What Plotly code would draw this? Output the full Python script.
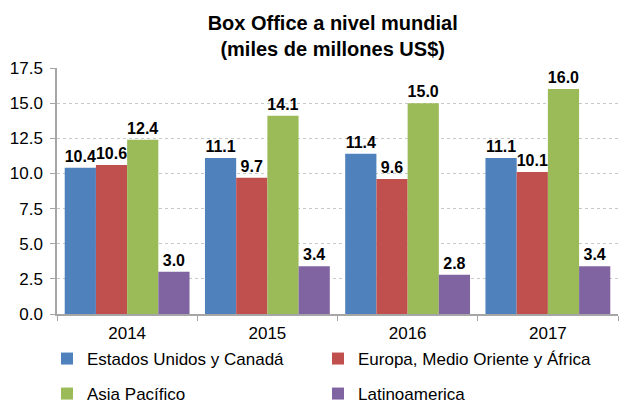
import plotly.graph_objects as go

years = ["2014", "2015", "2016", "2017"]
series_names = ["Estados Unidos y Canadá", "Europa, Medio Oriente y África", "Asia Pacífico", "Latinoamerica"]
usa_canada = [10.4, 11.1, 11.4, 11.1]
europa = [10.6, 9.7, 9.6, 10.1]
asia = [12.4, 14.1, 15.0, 16.0]
latam = [3.0, 3.4, 2.8, 3.4]
colors = ["#4F81BD", "#C0504D", "#9BBB59", "#8064A2"]
legend_ids = ["legend", "legend2", "legend3", "legend4"]

fig = go.Figure()
for name, vals, col, lg in zip(series_names, [usa_canada, europa, asia, latam], colors, legend_ids):
    fig.add_trace(go.Bar(
        x=years, y=vals, name=name, marker=dict(color=col, line=dict(width=0)),
        text=[f"{v:.1f}" for v in vals], textposition="outside",
        textfont=dict(family="Liberation Sans, Arial", size=16, color="#000000", weight="bold"),
        cliponaxis=False, legend=lg, showlegend=True,
    ))

font = dict(family="Liberation Sans, Arial", size=17, color="#000000")


def leg(x_px, y_px):
    return dict(orientation="v", xref="container", yref="container",
                x=x_px / 628, xanchor="left", y=1 - y_px / 403, yanchor="middle",
                itemwidth=30, font=font, bgcolor="rgba(0,0,0,0)")


fig.update_layout(
    width=628, height=403,
    paper_bgcolor="white", plot_bgcolor="white",
    margin=dict(l=49, r=18, t=60, b=97, autoexpand=False),
    font=font,
    showlegend=True,
    title=dict(text="<b>Box Office a nivel mundial<br>(miles de millones US$)</b>",
               xref="container", yref="container",
               x=0.517, xanchor="center", y=1 - 22 / 403, yanchor="middle",
               font=dict(family="Liberation Sans, Arial", size=20, color="#000000")),
    barmode="group", bargap=0.11, bargroupgap=0,
    uniformtext=dict(minsize=16, mode="show"),
    legend=leg(39, 351),
    legend2=leg(310, 351),
    legend3=leg(39, 386),
    legend4=leg(310, 386),
)
fig.update_yaxes(range=[0, 17.5], dtick=2.5, tickformat=".1f",
                 showgrid=True, gridcolor="#C8C8C8", griddash="dot", gridwidth=1,
                 showline=True, linecolor="#A6A6A6", linewidth=1.5,
                 ticks="outside", ticklen=5, tickcolor="#A6A6A6",
                 ticklabelstandoff=4,
                 zeroline=False, tickfont=font)
fig.update_xaxes(showline=True, linecolor="#A6A6A6", linewidth=1.5,
                 ticks="outside", tickson="boundaries", ticklen=5, tickcolor="#A6A6A6",
                 ticklabelstandoff=3,
                 tickfont=font)

fig.write_html("out.html")
